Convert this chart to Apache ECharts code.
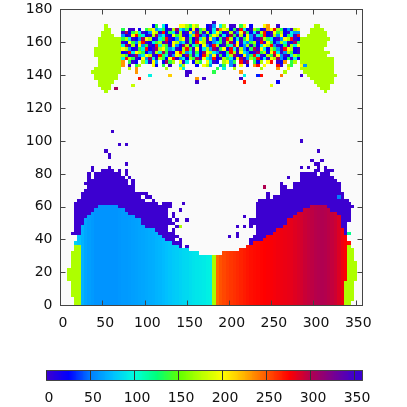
<!DOCTYPE html>
<html>
<head>
<meta charset="utf-8">
<style>
  html, body { margin: 0; padding: 0; background: #fff; }
  #chart { width: 407px; height: 407px; }
</style>
<script src="https://cdn.jsdelivr.net/npm/echarts@6/dist/echarts.min.js"></script>
</head>
<body>
<div id="chart"></div>
<script>
const xTicks = [0, 50, 100, 150, 200, 250, 300, 350]
const yTicks = [0, 20, 40, 60, 80, 100, 120, 140, 160, 180]
const barTicks = [0, 50, 100, 150, 200, 250, 300, 350]

// palette stops for 0, 25, 50 ... 350
const paletteStops = ['#3c00d0', '#0000ff', '#0080ff', '#00c0ff', '#00ffdc', '#00ff78', '#60ff00', '#b8ff00',
  '#ffff00', '#ffb000', '#ff5500', '#ff0000', '#b00050', '#780090', '#3c00d0']

const violetValue = 352
const greenValue = 172

// solid core of the two domes: one column per x bin, top y and colour value
const coreX = [18, 22, 26, 30, 34, 38, 42, 46, 50, 54, 58, 62, 66, 70, 74, 78, 82, 86, 90, 94,
  98, 102, 106, 110, 114, 118, 122, 126, 130, 134, 138, 142, 146, 150, 154, 158, 162, 166, 170, 174, 178,
  182, 186, 190, 194, 198, 202, 206, 210, 214, 218, 222, 226, 230, 234, 238, 242, 246, 250, 254, 258,
  262, 266, 270, 274, 278, 282, 286, 290, 294, 298, 302, 306, 310, 314, 318, 322, 326, 330, 334, 338, 342]
const coreTop = [38, 42, 48, 52, 54, 56, 58, 60, 60, 60, 60, 60, 60, 58, 58, 56, 54, 54, 52, 52,
  48, 46, 46, 46, 44, 42, 40, 38, 38, 36, 36, 34, 34, 34, 32, 32, 32, 30, 30, 30, 30,
  30, 30, 30, 32, 32, 32, 32, 32, 34, 34, 36, 36, 38, 38, 38, 40, 42, 42, 44, 46,
  46, 48, 52, 52, 54, 56, 56, 58, 58, 60, 60, 60, 60, 60, 58, 56, 56, 54, 46, 42, 38]
const coreValue = [82, 76, 70, 65, 62, 60, 58, 58, 58, 58, 58, 58, 58, 59, 60, 60, 61, 62, 63, 64,
  65, 66, 67, 68, 70, 71, 73, 75, 77, 79, 80, 82, 84, 85, 87, 89, 90, 91, 92, 94, 95,
  170, 245, 251, 254, 257, 259, 261, 263, 265, 267, 269, 271, 272, 273, 274, 275, 276, 277, 278, 279,
  280, 281, 282, 283, 285, 287, 289, 292, 294, 296, 298, 299, 300, 299, 297, 294, 291, 286, 280, 276, 272]

// violet halo above the core: y, then x from / x to pairs
const violetSpans = [
  [84, 38, 38, 58, 58, 286, 286, 294, 294, 306, 306, 314, 314],
  [82, 38, 38, 50, 50, 54, 62, 70, 70, 78, 78, 302, 306, 314, 322],
  [80, 34, 34, 42, 42, 46, 46, 50, 66, 70, 70, 78, 78, 286, 298, 302, 302, 310, 318],
  [78, 34, 34, 42, 46, 50, 74, 82, 82, 270, 270, 286, 322],
  [76, 34, 78, 86, 86, 286, 326],
  [74, 30, 34, 38, 38, 42, 70, 74, 78, 86, 86, 262, 262, 278, 330],
  [72, 34, 86, 262, 266, 278, 330],
  [70, 30, 86, 262, 330],
  [68, 26, 94, 98, 102, 246, 246, 262, 334],
  [66, 26, 94, 102, 106, 246, 246, 254, 334],
  [64, 22, 98, 110, 110, 236, 342],
  [62, 18, 110, 114, 114, 122, 122, 126, 126, 130, 130, 234, 342],
  [60, 18, 130, 234, 346],
  [58, 18, 126, 234, 342],
  [56, 18, 126, 134, 134, 234, 342],
  [54, 18, 126, 134, 134, 218, 218, 234, 342],
  [52, 18, 130, 138, 138, 226, 342],
  [50, 18, 126, 130, 130, 226, 338],
  [48, 18, 126, 138, 138, 210, 210, 218, 218, 226, 226, 234, 338],
  [46, 18, 126, 134, 134, 234, 338],
  [44, 14, 130, 210, 210, 234, 338],
  [42, 22, 126, 130, 138, 200, 200, 210, 210, 230, 338],
  [40, 22, 134, 142, 142, 226, 338],
  [38, 130, 138, 142, 142, 226, 338],
  [36, 134, 134, 142, 142, 150, 150, 222, 334]
]

// green edges: y, x from, x to
const greenSpans = [
  [170, 54, 54], [168, 54, 58], [166, 50, 58], [164, 50, 62], [162, 46, 70], [160, 46, 70], [158, 46, 70],
  [156, 42, 70], [154, 42, 70], [152, 42, 70], [150, 46, 70], [148, 46, 70], [146, 46, 70], [144, 42, 70],
  [142, 38, 70], [140, 42, 66], [138, 42, 66], [136, 46, 62], [134, 46, 58], [132, 50, 58], [130, 54, 54],
  [170, 302, 306], [168, 298, 310], [166, 298, 314], [164, 294, 314], [162, 286, 318], [160, 286, 314],
  [158, 286, 314], [156, 286, 310], [154, 286, 318], [152, 286, 314], [150, 286, 322], [148, 286, 322],
  [146, 286, 322], [144, 286, 322], [142, 290, 322], [140, 294, 326], [138, 298, 322], [136, 302, 322],
  [134, 306, 318], [132, 310, 318], [130, 314, 314],
  [36, 18, 22], [34, 18, 22], [32, 14, 22], [30, 14, 22], [28, 14, 22], [26, 14, 22], [24, 14, 22],
  [22, 10, 22], [20, 10, 22], [18, 10, 22], [16, 10, 22], [14, 14, 22], [12, 14, 22], [10, 14, 22],
  [8, 14, 22], [6, 14, 22], [4, 18, 22], [2, 18, 22], [0, 18, 22],
  [36, 342, 342], [34, 342, 346], [32, 342, 346], [30, 342, 346], [28, 342, 346], [26, 342, 350],
  [24, 342, 350], [22, 342, 350], [20, 342, 350], [18, 342, 350], [16, 342, 350], [14, 338, 346],
  [12, 338, 346], [10, 338, 346], [8, 338, 346], [6, 338, 346], [4, 338, 346], [2, 338, 342], [0, 338, 342]
]

// noisy band at the top, one letter per x bin starting at noiseStartX
const noiseCodes = { v: 352, b: 22, a: 58, c: 95, g: 135, l: 172, y: 200, o: 232, r: 272, m: 305 }
const noiseStartX = 74
const noiseY = [170, 168, 166, 164, 162, 160, 158, 156, 154, 152, 150, 148, 146, 144, 142]
const noiseRows = [
  '.........bg.cb...yylgyl..bva.cl.vv.gy.b...yo..v.......',
  'g.vv.b.glyacgbvlmcagbyvglbvcmoylbgvrcbvlgbvoyrlgbavly',
  'vmbglcvbaylvrbgcvlbvyamgvlbcygbvlvaymgbcvlrbvyglbvcaa',
  'abvyrgcbvlmacvbyglvbclrvabgylvcbmgvlbyavcgrbvlaybgcvr',
  'glcvbamylbvcgrvbalyvgbmclvyabgvrlbcvgyabvmlgcbvaylrvb',
  'vbygalrvbcglvmbylacvgbrylvbacgvlmbyvcaglbrvygbalcvbmg',
  'cmvlbyagvbrclgvyabmlvcgbyavrlbvgcmybalvgbcylravbgvlcy',
  'ylabvgcrbvmlygacvblrgvybclamvgybrcvlabgmvycblgavrylbv',
  'bvrcylgbavlcmgvbyrlacvgbmylcavbgrlvycabvmglbyrcvalgbv',
  'lgbvmacylvbrgcvaylbmgvcbrlayvgbclmvbyagrcvblgmyavbclg',
  'crlgvbyamcvlgbyrvacblgmvycarbvlgcbymvalgrbcvylmabgvcb',
  'o.gvb.lcvya.bmgl.yvc.blg.ycvb.lyag.rvm.gbl.yr.vbo.gl.',
  'o.v.gl...yb.g.v..cl...b.yla..ag.av.y.b.or.y...rv.lg..ya',
  '..l.o........l...yc.........g.c..l.......l....o..y.....',
  '....o...............v......g.......o............l......'
]

// isolated bins: x, y, value
const speckles = [
  [62, 106, 352], [70, 98, 352], [78, 98, 352], [54, 94, 352], [58, 92, 352], [58, 90, 352], [78, 86, 352],
  [146, 62, 352], [142, 58, 352], [150, 52, 352], [134, 50, 352], [142, 48, 172], [134, 44, 352], [150, 36, 352],
  [286, 100, 352], [306, 94, 352], [298, 88, 352], [310, 88, 352], [302, 86, 352], [306, 86, 352],
  [330, 66, 50], [342, 44, 120], [242, 72, 300],
  [66, 132, 305], [94, 138, 272], [106, 140, 95], [130, 140, 215], [150, 140, 352], [150, 142, 352],
  [162, 138, 232], [162, 136, 352], [170, 138, 352], [86, 134, 180], [218, 140, 95], [214, 138, 352],
  [218, 136, 270], [234, 140, 30], [238, 140, 272], [262, 140, 240], [286, 140, 352], [258, 136, 22],
  [250, 134, 190], [182, 172, 352]
]

const cellW = 4
const cellH = 2

let cells = []
violetSpans.forEach(function (row) {
  for (let i = 1; i < row.length; i += 2) {
    for (let x = row[i]; x <= row[i + 1]; x += cellW) cells.push([x, row[0], violetValue])
  }
})
coreX.forEach(function (x, i) {
  for (let y = 0; y <= coreTop[i]; y += cellH) cells.push([x, y, coreValue[i]])
})
greenSpans.forEach(function (row) {
  for (let x = row[1]; x <= row[2]; x += cellW) cells.push([x, row[0], greenValue])
})
noiseRows.forEach(function (text, r) {
  for (let i = 0; i < text.length; i++) {
    if (noiseCodes[text[i]] !== undefined) cells.push([noiseStartX + i * cellW, noiseY[r], noiseCodes[text[i]]])
  }
})
speckles.forEach(function (s) { cells.push(s) })

// colour bar strip, one entry per unit of the scale
let barCells = []
for (let v = 0; v < 359; v++) barCells.push([v + 0.5, 0.5, v])

function cellRenderer(halfW, halfH) {
  return function (params, api) {
    const x = api.value(0)
    const y = api.value(1)
    const a = api.coord([x - halfW, y + halfH])
    const b = api.coord([x + halfW, y - halfH])
    const left = Math.round(a[0])
    const top = Math.round(a[1])
    const shape = echarts.graphic.clipRectByRect({
      x: left,
      y: top,
      width: Math.round(b[0]) - left,
      height: Math.round(b[1]) - top
    }, params.coordSys)
    return shape && { type: 'rect', shape: shape, style: { fill: api.visual('color') } }
  }
}

const labelStyle = { fontFamily: 'DejaVu Sans', fontSize: 14, color: '#111' }
const lineStyle = { color: '#444', width: 1 }

function axisBase(extra) {
  return Object.assign({
    type: 'value',
    gridIndex: 0,
    z: 5,
    splitLine: { show: false },
    axisLine: { show: true, onZero: false, lineStyle: lineStyle },
    axisTick: { show: true, inside: true, length: 5, lineStyle: lineStyle }
  }, extra)
}

const chart = echarts.init(document.getElementById('chart'), null, { renderer: 'canvas' })
chart.setOption({
  animation: false,
  backgroundColor: '#fff',
  grid: [
    { left: 60.5, top: 9.5, width: 302, height: 296, show: true, backgroundColor: '#fafafa', borderWidth: 0 },
    { left: 46.5, top: 370.5, width: 316, height: 9.5, show: false }
  ],
  visualMap: {
    show: false,
    type: 'continuous',
    seriesIndex: [0, 1],
    dimension: 2,
    min: 0,
    max: 350,
    inRange: { color: paletteStops }
  },
  xAxis: [
    axisBase({ min: 0, max: 358, position: 'bottom',
      axisLabel: Object.assign({ margin: 11, padding: [0, 0, 0, 5], customValues: xTicks, showMinLabel: true }, labelStyle),
      axisTick: { show: true, inside: true, length: 5, lineStyle: lineStyle, customValues: xTicks } }),
    axisBase({ min: 0, max: 358, position: 'top',
      axisLabel: { show: false },
      axisTick: { show: true, inside: true, length: 5, lineStyle: lineStyle, customValues: xTicks } }),
    axisBase({ gridIndex: 1, min: 0, max: 359, position: 'bottom',
      axisLabel: Object.assign({ margin: 11, padding: [0, 0, 0, 5], customValues: barTicks }, labelStyle),
      axisTick: { show: true, inside: true, length: 9.5, lineStyle: { color: '#333', width: 1 }, customValues: barTicks } }),
    axisBase({ gridIndex: 1, min: 0, max: 359, position: 'top',
      axisLabel: { show: false }, axisTick: { show: false } })
  ],
  yAxis: [
    axisBase({ min: 0, max: 180, position: 'left',
      axisLabel: Object.assign({ margin: 8, customValues: yTicks }, labelStyle),
      axisTick: { show: true, inside: true, length: 5, lineStyle: lineStyle, customValues: yTicks } }),
    axisBase({ min: 0, max: 180, position: 'right',
      axisLabel: { show: false },
      axisTick: { show: true, inside: true, length: 5, lineStyle: lineStyle, customValues: yTicks } }),
    axisBase({ gridIndex: 1, min: 0, max: 1, position: 'left', axisLabel: { show: false }, axisTick: { show: false } }),
    axisBase({ gridIndex: 1, min: 0, max: 1, position: 'right', axisLabel: { show: false }, axisTick: { show: false } })
  ],
  series: [
    {
      type: 'custom',
      xAxisIndex: 0,
      yAxisIndex: 0,
      z: 2,
      progressive: 0,
      silent: true,
      renderItem: cellRenderer(cellW / 2, cellH / 2),
      encode: { x: 0, y: 1 },
      data: cells
    },
    {
      type: 'custom',
      xAxisIndex: 2,
      yAxisIndex: 2,
      z: 2,
      progressive: 0,
      silent: true,
      renderItem: cellRenderer(0.5, 0.5),
      encode: { x: 0, y: 1 },
      data: barCells
    }
  ]
})
</script>
</body>
</html>
